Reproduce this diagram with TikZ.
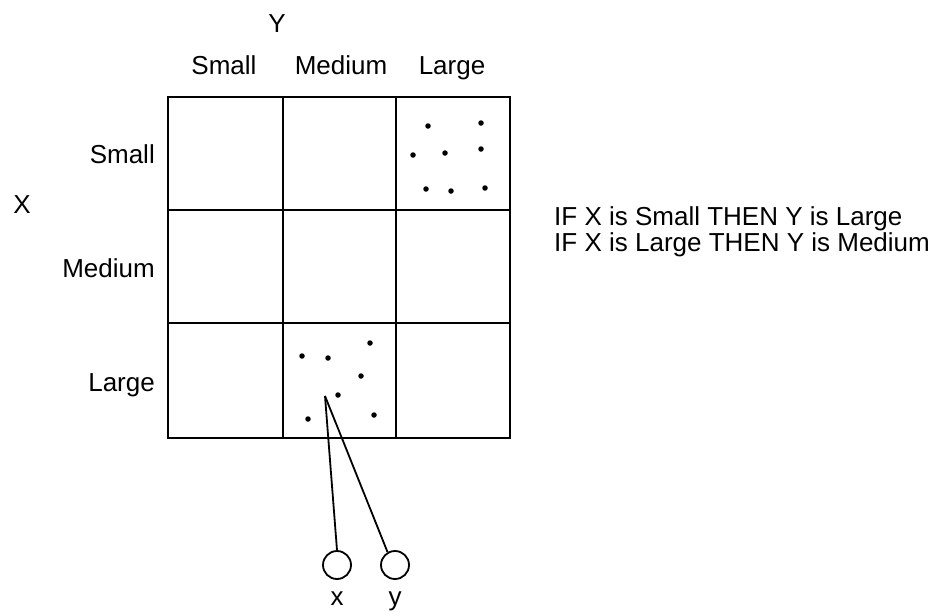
\documentclass[tikz,border=0pt]{standalone}
\usepackage{fontspec}
\setmainfont{Liberation Sans}
\begin{document}
\begin{tikzpicture}[x=1pt,y=-1pt,
  lbl/.style={font=\fontsize{26}{28}\selectfont, inner sep=0pt},
  rlbl/.style={lbl, anchor=base east},
  clbl/.style={lbl, anchor=base},
  grid/.style={line width=2.6pt},
  dot/.style={circle, fill=black, inner sep=0pt, minimum size=5.5pt},
  wire/.style={line width=1.8pt},
  port/.style={circle, draw, line width=1.8pt, minimum size=28pt, inner sep=0pt}]
\useasboundingbox (0,0) rectangle (940,614);
% grid
\draw[grid] (168,97) rectangle (510,438);
\draw[grid] (283,97) -- (283,438);
\draw[grid] (396,97) -- (396,438);
\draw[grid] (168,210) -- (510,210);
\draw[grid] (168,323) -- (510,323);
% headings
\node[clbl] (Y) at (277,32) {Y};
\node[clbl] (ys) at (224,74) {Small};
\node[clbl] (ym) at (341,74) {Medium};
\node[clbl] (yl) at (452,74) {Large};
\node[clbl] (X) at (22,213) {X};
\node[rlbl] (xs) at (155,163) {Small};
\node[rlbl] (xm) at (155,277) {Medium};
\node[rlbl] (xl) at (155,391) {Large};
\node[lbl, anchor=base west, align=left, font=\fontsize{26}{23}\selectfont] (rules) at (554,251)
  {IF X is Small THEN Y is Large\\IF X is Large THEN Y is Medium};
% dots top-right
\foreach \p in {(428,126),(481,123),(413,155),(445,153),(481,149),(426,189),(451,191),(485,188)}
  \node[dot] at \p {};
% dots bottom-middle
\foreach \p in {(302,356),(328,358),(370,343),(361,376),(338,395),(308,419),(374,415)}
  \node[dot] at \p {};
% inputs
\coordinate (src) at (325,396);
\node[port] (cx) at (337,565) {};
\node[port] (cy) at (395,565) {};
\node[clbl] (lx) at (337,605) {x};
\node[clbl] (ly) at (395,605) {y};
\draw[wire] (src) -- (cx.north);
\draw[wire] (src) -- (cy.120);
\end{tikzpicture}
\end{document}
